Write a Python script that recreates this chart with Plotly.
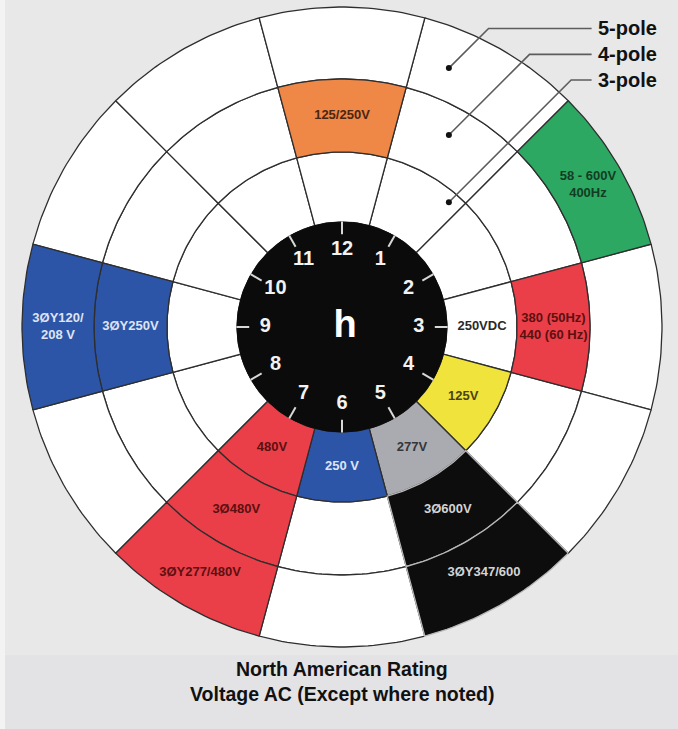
import numpy as np
import plotly.graph_objects as go

# ring edges as a fraction of the outer radius: clock disk, 3-pole, 4-pole, 5-pole
ring_edges = [0.328, 0.547, 0.775, 1.0]
hours = list(range(1, 13))

# labelled cells: clock position, ring (1 = 3-pole, 2 = 4-pole, 3 = 5-pole)
cell_hour = [12, 2, 3, 3, 4, 5, 5, 5, 6, 7, 7, 7, 9, 9]
cell_ring = [2, 3, 1, 2, 1, 1, 2, 3, 1, 1, 2, 3, 2, 3]
cell_color = ["#ef8747", "#2ca862", "#ffffff", "#ea3f49", "#f0e33c", "#a9abb0", "#0d0d0d",
              "#0d0d0d", "#2d55a7", "#ea3f49", "#ea3f49", "#ea3f49", "#2d55a7", "#2d55a7"]
cell_text = ["125/250V", "58 - 600V<br>400Hz", "250VDC", "380 (50Hz)<br>440 (60 Hz)", "125V",
             "277V", "3Ø600V", "3ØY347/600", "250 V", "480V", "3Ø480V", "3ØY277/480V",
             "3ØY250V", "3ØY120/<br>208 V"]
cell_text_color = ["#4a2612", "#123d22", "#2a2a2a", "#5c1010", "#4a4412", "#34363a", "#d4d4d4",
                   "#d4d4d4", "#dde4f4", "#5c1010", "#5c1010", "#5c1010", "#dde4f4", "#dde4f4"]

# pole leader lines: label height, dot position
pole_labels = ["5-pole", "4-pole", "3-pole"]
pole_line_y = [0.933, 0.852, 0.772]
pole_dot_x = [0.334, 0.334, 0.334]
pole_dot_y = [0.809, 0.600, 0.390]

footer = ["North American Rating", "Voltage AC (Except where noted)"]

FONT = "Liberation Sans, Arial, sans-serif"
BLACK = "#0d0d0d"


def sector(hour, r0, r1, n=30):
    a = np.radians(np.linspace(hour * 30 - 15, hour * 30 + 15, n))
    xs = np.concatenate([r1 * np.sin(a), r0 * np.sin(a[::-1]), [r1 * np.sin(a[0])]])
    ys = np.concatenate([r1 * np.cos(a), r0 * np.cos(a[::-1]), [r1 * np.cos(a[0])]])
    return xs, ys


fig = go.Figure()

labelled = {(h, r): i for i, (h, r) in enumerate(zip(cell_hour, cell_ring))}


def draw_rank(cell):
    i = labelled.get(cell)
    if i is None:
        return 0
    return 2 if cell_color[i] == BLACK else 1


# plain white cells first, then coloured ones on top, black ones last
cells = sorted([(h, r) for h in hours for r in (1, 2, 3)], key=draw_rank)

for h, r in cells:
    i = labelled.get((h, r))
    color = "#ffffff" if i is None else cell_color[i]
    edge = "#b8b8b8" if color == BLACK else "#2e2e2e"
    xs, ys = sector(h, ring_edges[r - 1], ring_edges[r])
    fig.add_trace(go.Scatter(x=xs, y=ys, fill="toself", fillcolor=color, mode="lines",
                             line=dict(color=edge, width=1.3), hoverinfo="skip", showlegend=False))

# clock disk
t = np.radians(np.linspace(0, 360, 200))
fig.add_trace(go.Scatter(x=ring_edges[0] * np.sin(t), y=ring_edges[0] * np.cos(t), fill="toself",
                         fillcolor="#0b0b0b", mode="lines", line=dict(color="#0b0b0b", width=1),
                         hoverinfo="skip", showlegend=False))

# hour ticks
tx, ty = [], []
for h in hours:
    a = np.radians(h * 30)
    tx += [0.29 * np.sin(a), 0.33 * np.sin(a), None]
    ty += [0.29 * np.cos(a), 0.33 * np.cos(a), None]
fig.add_trace(go.Scatter(x=tx, y=ty, mode="lines", line=dict(color="#d8d8d8", width=2),
                         hoverinfo="skip", showlegend=False))

# hour numbers
ha = np.radians(np.array(hours) * 30)
fig.add_trace(go.Scatter(x=0.24 * np.sin(ha), y=0.24 * np.cos(ha), mode="text",
                         text=[str(h) for h in hours],
                         textfont=dict(family=FONT, size=20, color="#f2f2f2", weight="bold"),
                         hoverinfo="skip", showlegend=False))
fig.add_trace(go.Scatter(x=[0.01], y=[0], mode="text", text=["h"],
                         textfont=dict(family=FONT, size=38, color="#ffffff", weight="bold"),
                         hoverinfo="skip", showlegend=False))

# cell labels
for i, (h, r) in enumerate(zip(cell_hour, cell_ring)):
    a = np.radians(h * 30)
    rm = (ring_edges[r - 1] + ring_edges[r]) / 2
    fig.add_trace(go.Scatter(x=[rm * np.sin(a)], y=[rm * np.cos(a)], mode="text",
                             text=[cell_text[i]],
                             textfont=dict(family=FONT, size=13, color=cell_text_color[i], weight="bold"),
                             hoverinfo="skip", showlegend=False))

# leader lines for the pole rings (45 degree run down to the dot)
label_x = 0.78
lx, ly = [], []
for yl, dx, dy in zip(pole_line_y, pole_dot_x, pole_dot_y):
    lx += [label_x, dx + (yl - dy), dx, None]
    ly += [yl, yl, dy, None]
fig.add_trace(go.Scatter(x=lx, y=ly, mode="lines", line=dict(color="#5c5c5c", width=1.6),
                         hoverinfo="skip", showlegend=False))
fig.add_trace(go.Scatter(x=pole_dot_x, y=pole_dot_y, mode="markers",
                         marker=dict(color="#111111", size=6), hoverinfo="skip", showlegend=False))

for name, yl in zip(pole_labels, pole_line_y):
    fig.add_annotation(x=label_x + 0.015, y=yl, text=name, showarrow=False, xanchor="left",
                       yanchor="middle", font=dict(family=FONT, size=20, color="#111111", weight="bold"))

for txt, yy in zip(footer, [-1.07, -1.148]):
    fig.add_annotation(x=0.0, y=yy, text=txt, showarrow=False, xanchor="center", yanchor="middle",
                       font=dict(family=FONT, size=19.5, color="#111111", weight="bold"))

# background: lighter left strip and bottom band
fig.add_shape(type="rect", xref="paper", yref="paper", x0=0, x1=1, y0=0, y1=74 / 729,
              fillcolor="#e3e3e5", line_width=0, layer="below")
fig.add_shape(type="rect", xref="paper", yref="paper", x0=0, x1=5 / 678, y0=0, y1=1,
              fillcolor="#f3f3f3", line_width=0, layer="below")

S = 320.0
CX, CY = 342.0, 327.0
fig.update_layout(
    width=678, height=729,
    margin=dict(l=0, r=0, t=0, b=0),
    paper_bgcolor="#e8e8e8",
    plot_bgcolor="rgba(0,0,0,0)",
    xaxis=dict(range=[-CX / S, (678 - CX) / S], visible=False, fixedrange=True),
    yaxis=dict(range=[-(729 - CY) / S, CY / S], visible=False, fixedrange=True),
    showlegend=False,
)

fig.write_html("out.html", config={"displayModeBar": False},
               post_script="document.body.style.margin='0';document.body.style.overflow='hidden';")
